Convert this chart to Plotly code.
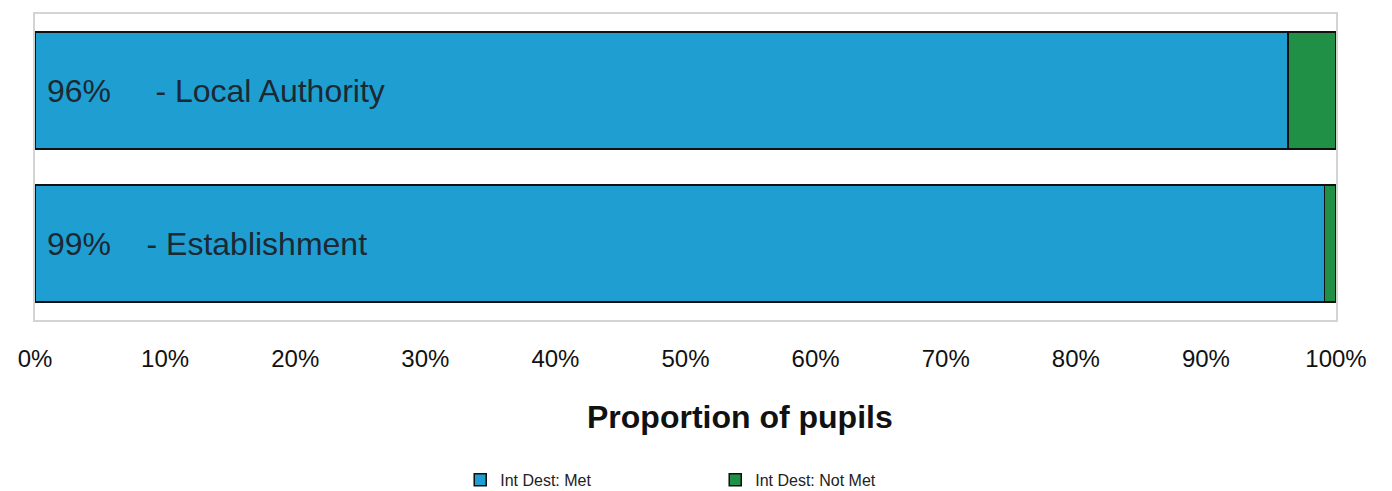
import plotly.graph_objects as go

categories = ["Local Authority", "Establishment"]
met = [96.3, 99.1]
not_met = [3.7, 0.9]
pct_labels = ["96%", "99%"]
gaps = [5, 4]
x_ticks = [0, 10, 20, 30, 40, 50, 60, 70, 80, 90, 100]
x_tick_text = [f"{v}%" for v in x_ticks]

NB = "\u00a0"
bar_text = [NB + p + NB * g + "- " + c for p, g, c in zip(pct_labels, gaps, categories)]

fig = go.Figure()
fig.add_trace(go.Bar(
    y=categories, x=met, orientation="h", name="Int Dest: Met",
    marker=dict(color="#1f9fd1", line=dict(color="#111111", width=1.5)),
    text=bar_text, textposition="inside", insidetextanchor="start",
    textangle=0, constraintext="none",
    insidetextfont=dict(family="Liberation Sans, Arial", size=32, color="#1c2833"),
))
fig.add_trace(go.Bar(
    y=categories, x=not_met, orientation="h", name="Int Dest: Not Met",
    marker=dict(color="#1f9046", line=dict(color="#111111", width=1.5)),
    hoverinfo="x",
))

# the page body has an 8px margin, so the figure is sized to the remaining viewport
fig.update_layout(
    barmode="stack",
    bargap=0.235,
    width=1384, height=483,
    margin=dict(l=27, r=56, t=6, b=171, autoexpand=False),
    paper_bgcolor="white", plot_bgcolor="white",
    font=dict(family="Liberation Sans, Arial", color="#111111"),
    showlegend=True,
    legend=dict(orientation="h", x=0.511, xanchor="center", y=-0.522, yanchor="middle",
                xref="container",
                font=dict(size=16, color="#222222"), entrywidth=210, entrywidthmode="pixels",
                traceorder="normal"),
    xaxis=dict(range=[0, 100], tickvals=x_ticks, ticktext=x_tick_text, automargin=False,
               tickfont=dict(size=24, color="#111111"), showgrid=False, zeroline=False,
               showline=True, linecolor="#d4d4d4", linewidth=2, mirror=True,
               ticks="", ticklabelstandoff=16, fixedrange=True),
    yaxis=dict(categoryorder="array", categoryarray=categories, autorange="reversed",
               showticklabels=False, showgrid=False, zeroline=False, automargin=False,
               showline=True, linecolor="#d4d4d4", linewidth=2, mirror=True, ticks=""),
    annotations=[dict(text="<b>Proportion of pupils</b>", xref="paper", yref="paper",
                      x=0.542, y=-0.317, xanchor="center", yanchor="middle", showarrow=False,
                      font=dict(size=32, color="#111111"))],
)

fig.write_html("out.html")
